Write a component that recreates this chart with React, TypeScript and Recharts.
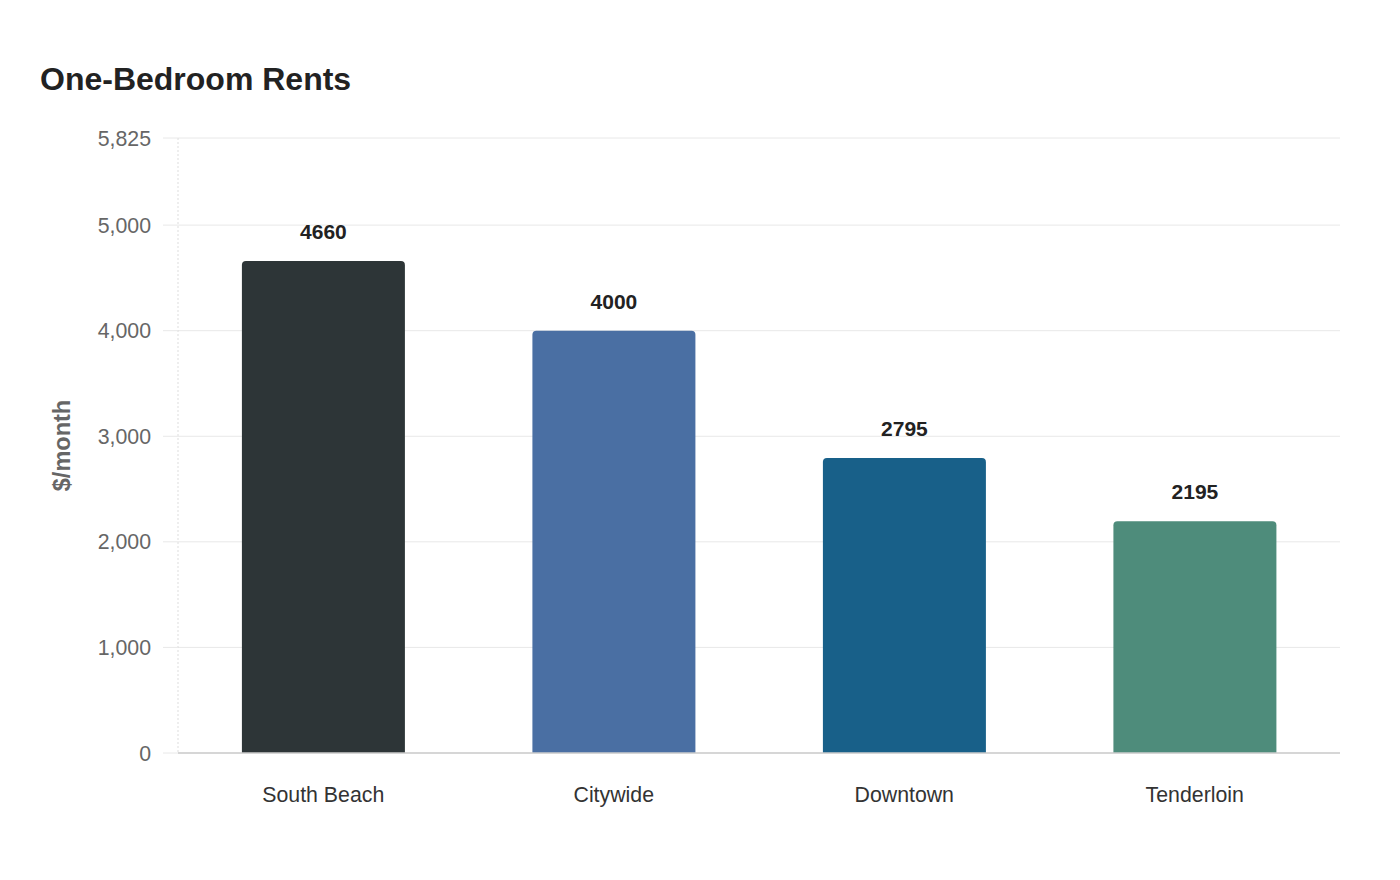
import { BarChart, Bar, XAxis, YAxis, CartesianGrid, LabelList, Cell, Label } from "recharts";

const neighborhoods = ["South Beach", "Citywide", "Downtown", "Tenderloin"];
const rents = [4660, 4000, 2795, 2195];
const barColors = ["#2d3537", "#4a6fa3", "#186089", "#4e8c7b"];
const yTicks = [0, 1000, 2000, 3000, 4000, 5000, 5825];

const chartData = neighborhoods.map((name, i) => ({ name, rent: rents[i] }));

const font = "'Liberation Sans', Arial, sans-serif";

function YTitle(props: any) {
  const vb = props.viewBox || {};
  const cx = 54;
  const cy = vb.y + vb.height / 2;
  return (
    <text
      x={cx}
      y={cy}
      transform={`rotate(-90, ${cx}, ${cy})`}
      textAnchor="middle"
      dominantBaseline="central"
      fill="#666"
      fontSize={23.5}
      fontWeight="bold"
      fontFamily={font}
    >
      $/month
    </text>
  );
}

export default function App() {
  return (
    <div style={{ position: "relative", width: 1384, height: 864, fontFamily: font, background: "#fff" }}>
      <div
        style={{
          position: "absolute",
          left: 32,
          top: 55,
          fontSize: 32,
          fontWeight: "bold",
          color: "#222",
          lineHeight: "32px",
        }}
      >
        One-Bedroom Rents
      </div>
      <BarChart
        width={1384}
        height={864}
        data={chartData}
        margin={{ top: 130, right: 52, bottom: 59, left: 0 }}
        barCategoryGap="22%"
      >
        <CartesianGrid stroke="#e8e8e8" vertical={false} />
        <YAxis
          width={170}
          domain={[0, 5825]}
          ticks={yTicks}
          interval={0}
          tickFormatter={(v: number) => v.toLocaleString("en-US")}
          tick={{ fill: "#666", fontSize: 21.3, fontFamily: font }}
          tickSize={15}
          tickMargin={12}
          tickLine={{ stroke: "#e8e8e8" }}
          axisLine={{ stroke: "#ddd", strokeDasharray: "2 2" }}
        >
          <Label content={<YTitle />} />
        </YAxis>
        <XAxis
          dataKey="name"
          height={60}
          tickSize={0}
          tickMargin={34}
          tickLine={false}
          axisLine={{ stroke: "#ccc", strokeWidth: 1.5 }}
          tick={{ fill: "#333", fontSize: 21.3, fontFamily: font }}
        />
        <Bar dataKey="rent" radius={[4, 4, 0, 0]} isAnimationActive={false}>
          {chartData.map((_, i) => (
            <Cell key={i} fill={barColors[i]} />
          ))}
          <LabelList
            dataKey="rent"
            position="top"
            offset={22}
            fill="#222"
            fontSize={21}
            fontWeight="bold"
            fontFamily={font}
          />
        </Bar>
      </BarChart>
    </div>
  );
}
